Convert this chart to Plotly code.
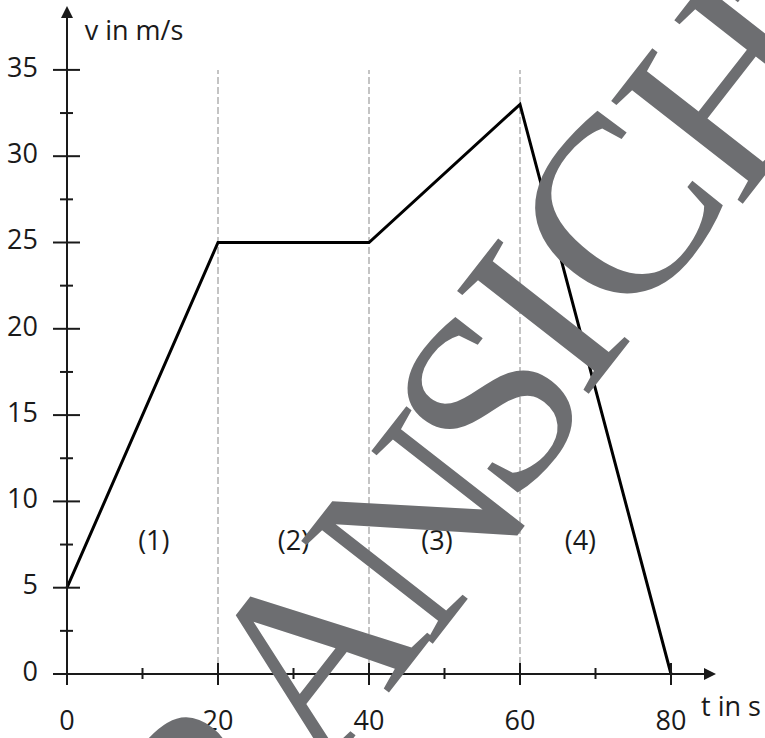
import plotly.graph_objects as go

# ---- data ----
t_points = [0, 20, 40, 60, 80]
v_points = [5, 25, 25, 33, 0]

phase_bounds = [20, 40, 60]
phase_top = 35

phase_labels = ["(1)", "(2)", "(3)", "(4)"]
phase_label_t = [11.5, 30, 49, 68]
phase_label_v = [7.6, 7.6, 7.6, 7.6]

x_major = [0, 20, 40, 60, 80]
x_major_labels = ["0", "20", "40", "60", "80"]
x_minor = [10, 30, 50, 70]

y_major = [0, 5, 10, 15, 20, 25, 30, 35]
y_major_labels = ["0", "5", "10", "15", "20", "25", "30", "35"]
y_minor = [2.5, 7.5, 12.5, 17.5, 22.5, 27.5, 32.5]

x_title = "t in s"
y_title = "v in m/s"
watermark = "ZURANSICHT"

# ---- geometry / styling (pixel mapping) ----
W, H = 765, 738
px_x0, px_per_t = 67.0, 7.55
px_y0, px_per_v = 674.0, 17.26
x_range = [-px_x0 / px_per_t, (W - px_x0) / px_per_t]
y_range = [-(H - px_y0) / px_per_v, px_y0 / px_per_v]

def tx(px):
    return (px - px_x0) / px_per_t

def vy(py):
    return (px_y0 - py) / px_per_v

FONT = "Open Sans"
FS = 27
INK = "#1a1a1a"

# watermark glyph centres in pixels (layout only)
wm_centres = [(9, 1046), (108, 920), (207, 794),
              (309, 655), (417, 524), (488, 401), (541, 315),
              (616, 211), (727, 84), (816, -30)]
WM_ANGLE = -52
WM_SIZE = 255
WM_COLOR = "#6d6e71"

fig = go.Figure()

# dashed phase boundaries
dx, dy = [], []
for b in phase_bounds:
    dx += [b, b, None]
    dy += [0, phase_top, None]
fig.add_trace(go.Scatter(x=dx, y=dy, mode="lines",
                         line=dict(color="#c4c4c4", width=2, dash="7px,3px"),
                         hoverinfo="skip"))

# main velocity line
fig.add_trace(go.Scatter(x=t_points, y=v_points, mode="lines",
                         line=dict(color="black", width=3), hoverinfo="skip"))

txtfont = dict(family=FONT, size=FS, color=INK)
# tick labels
fig.add_trace(go.Scatter(x=[tx(38)] * len(y_major), y=y_major, text=y_major_labels,
                         mode="text", textposition="middle left",
                         textfont=txtfont, hoverinfo="skip"))
fig.add_trace(go.Scatter(x=x_major, y=[vy(723)] * len(x_major), text=x_major_labels,
                         mode="text", textposition="middle center",
                         textfont=txtfont, hoverinfo="skip"))
# axis titles
fig.add_trace(go.Scatter(x=[tx(134)], y=[vy(33)], text=[y_title], mode="text",
                         textposition="middle center", textfont=txtfont,
                         hoverinfo="skip"))
fig.add_trace(go.Scatter(x=[tx(731)], y=[vy(709)], text=[x_title], mode="text",
                         textposition="middle center", textfont=txtfont,
                         hoverinfo="skip"))
# phase labels
fig.add_trace(go.Scatter(x=phase_label_t, y=phase_label_v, text=phase_labels, mode="text",
                         textposition="middle center", textfont=txtfont,
                         hoverinfo="skip"))

shapes = []
for xv in x_major:
    shapes.append(dict(type="line", xref="x", yref="y", ysizemode="pixel", yanchor=0,
                       x0=xv, x1=xv, y0=-11, y1=11, line=dict(color=INK, width=2)))
for xv in x_minor:
    shapes.append(dict(type="line", xref="x", yref="y", ysizemode="pixel", yanchor=0,
                       x0=xv, x1=xv, y0=-5, y1=6, line=dict(color=INK, width=2)))
for yv in y_major:
    shapes.append(dict(type="line", xref="x", yref="y", xsizemode="pixel", xanchor=0,
                       x0=-14, x1=13, y0=yv, y1=yv, line=dict(color=INK, width=2)))
for yv in y_minor:
    shapes.append(dict(type="line", xref="x", yref="y", xsizemode="pixel", xanchor=0,
                       x0=-7, x1=6, y0=yv, y1=yv, line=dict(color=INK, width=2)))

annotations = [
    # x axis with arrow
    dict(x=tx(716), y=0, ax=tx(53), ay=0, xref="x", yref="y", axref="x", ayref="y",
         text="", showarrow=True, arrowhead=2, arrowsize=1.2, arrowwidth=2,
         arrowcolor=INK),
    # y axis with arrow
    dict(x=0, y=vy(6), ax=0, ay=vy(686), xref="x", yref="y", axref="x", ayref="y",
         text="", showarrow=True, arrowhead=2, arrowsize=1.2, arrowwidth=2,
         arrowcolor=INK),
]
# watermark, one glyph per annotation (tight letter spacing)
for ch, (cx, cy) in zip(watermark, wm_centres):
    annotations.append(dict(
        x=cx / W, y=1 - cy / H, xref="paper", yref="paper", text=ch,
        showarrow=False, textangle=WM_ANGLE, xanchor="center", yanchor="middle",
        borderpad=0,
        font=dict(family="Liberation Serif", size=WM_SIZE, color=WM_COLOR)))

fig.update_layout(
    width=W, height=H,
    margin=dict(l=0, r=0, t=0, b=0),
    paper_bgcolor="white", plot_bgcolor="white",
    showlegend=False, hovermode=False,
    xaxis=dict(range=x_range, visible=False, fixedrange=True),
    yaxis=dict(range=y_range, visible=False, fixedrange=True),
    shapes=shapes, annotations=annotations,
)

fig.write_html("out.html",
               config={"displayModeBar": False, "staticPlot": True},
               post_script="document.body.style.margin='0px';"
                           "document.body.style.overflow='hidden';")
